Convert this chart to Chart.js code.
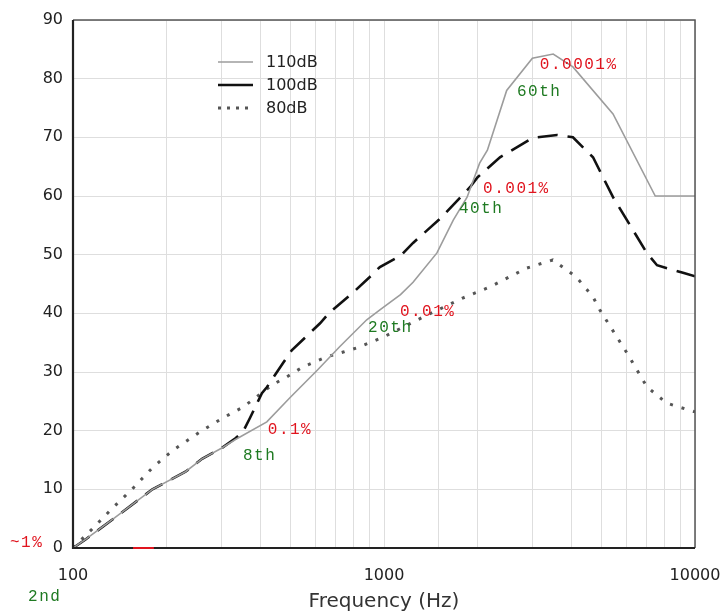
<!DOCTYPE html>
<html>
<head>
<meta charset="utf-8">
<script src="https://cdn.jsdelivr.net/npm/chart.js@4"></script>
<style>
  body { margin: 0; background: #fff; }
</style>
</head>
<body>
<canvas id="myChart" width="723" height="614"></canvas>
<script>
// ---------------- data ----------------
var freq110 = [100, 110, 135, 180, 230, 260, 300, 333, 420, 500, 610, 720, 880, 970, 1130, 1240, 1480, 1670, 1850, 2030, 2150, 2480, 3000, 3500, 4050, 5450, 7450, 10000];
var val110  = [0, 1.5, 5, 10, 13, 15.2, 17, 18.5, 21.5, 25.7, 30.3, 34.3, 38.9, 40.6, 43.2, 45.3, 50.3, 55.9, 59.8, 65.6, 67.8, 78, 83.5, 84.2, 82, 74, 60, 60];

var freq100 = [100, 110, 135, 180, 230, 260, 300, 333, 352, 371, 405, 420, 473, 505, 623, 670, 794, 900, 970, 1130, 1240, 1520, 1890, 2000, 2360, 3000, 3600, 4050, 4700, 5450, 7000, 7550, 9150, 10000];
var val100  = [0, 1.5, 5, 10, 13, 15.2, 17, 18.7, 19.8, 22.2, 26.4, 27.4, 31.5, 33.7, 38.3, 40.2, 43.5, 46.2, 47.9, 49.8, 52, 56.2, 61.5, 63.2, 66.6, 69.9, 70.4, 70, 66.6, 59.8, 50.3, 48.2, 46.9, 46.3];

var freq80 = [100, 116, 134, 156, 181, 210, 256, 304, 352, 437, 488, 550, 656, 740, 818, 1000, 1340, 1790, 2190, 2870, 3490, 4150, 4700, 4940, 6050, 7000, 8100, 10000];
var val80  = [0, 3.4, 6.8, 10.2, 13.8, 16.7, 19.8, 22.2, 24, 27.8, 29.2, 30.9, 32.6, 33.4, 34.1, 36, 39.4, 42.6, 44.5, 47.7, 49.1, 46.2, 42.8, 40.6, 33.2, 27.5, 24.7, 23.2];

var seriesNames = ['110dB', '100dB', '80dB'];
var xTickLabels = [100, 1000, 10000];

// notes: distortion % (red) and harmonic number (green), anchored in data units
var noteTexts = ['~1%', '2nd', '0.1%', '8th', '0.01%', '20th', '0.001%', '40th', '0.0001%', '60th'];
var noteFreqs = [62.7, 71.7, 423, 352, 1125, 889, 2083, 1741, 3170, 2676];
var noteVals  = [0.85, -8.35, 20.1, 15.7, 40.2, 37.5, 61.2, 57.8, 82.3, 77.7];
var noteKinds = ['pct', 'harm', 'pct', 'harm', 'pct', 'harm', 'pct', 'harm', 'pct', 'harm'];

function pts(xs, ys) {
    return xs.map(function (x, i) { return { x: x, y: ys[i] }; });
}

var noteColors = { pct: '#e0141e', harm: '#1f7a22' };

// frame round the plot area
var frame = {
    id: 'frame',
    afterDatasetsDraw: function (chart) {
        var a = chart.chartArea, ctx = chart.ctx;
        ctx.save();
        ctx.strokeStyle = '#555';
        ctx.lineWidth = 1.5;
        ctx.beginPath();
        ctx.moveTo(a.left, a.top); ctx.lineTo(a.right, a.top); ctx.lineTo(a.right, a.bottom);
        ctx.stroke();
        ctx.strokeStyle = '#222';
        ctx.lineWidth = 2.2;
        ctx.beginPath();
        ctx.moveTo(a.left, a.top); ctx.lineTo(a.left, a.bottom); ctx.lineTo(a.right, a.bottom);
        ctx.stroke();
        ctx.restore();
    }
};

// legend drawn inside the plot
var innerLegend = {
    id: 'innerLegend',
    afterDraw: function (chart) {
        var a = chart.chartArea, ctx = chart.ctx;
        ctx.save();
        chart.data.datasets.forEach(function (ds, i) {
            var y = a.top + 42 + i * 23;
            ctx.strokeStyle = ds.borderColor;
            ctx.lineWidth = ds.borderWidth;
            ctx.setLineDash(ds.legendDash || []);
            ctx.beginPath();
            ctx.moveTo(a.left + 145, y);
            ctx.lineTo(a.left + 180, y);
            ctx.stroke();
            ctx.setLineDash([]);
            ctx.fillStyle = '#222';
            ctx.font = '16px "DejaVu Sans"';
            ctx.textBaseline = 'middle';
            ctx.fillText(ds.label, a.left + 193, y + 1);
        });
        ctx.restore();
    }
};

// red / green notes
var notes = {
    id: 'notes',
    afterDraw: function (chart) {
        var xs = chart.scales.x, ys = chart.scales.y, ctx = chart.ctx;
        ctx.save();
        ctx.font = '16px "Liberation Mono"';
        ctx.letterSpacing = '1.5px';
        ctx.textBaseline = 'middle';
        noteTexts.forEach(function (t, i) {
            ctx.fillStyle = noteColors[noteKinds[i]];
            ctx.fillText(t, xs.getPixelForValue(noteFreqs[i]), ys.getPixelForValue(noteVals[i]));
        });
        // small red mark on the axis
        ctx.strokeStyle = noteColors.pct;
        ctx.lineWidth = 2;
        ctx.beginPath();
        ctx.moveTo(xs.getPixelForValue(156), ys.getPixelForValue(0));
        ctx.lineTo(xs.getPixelForValue(182), ys.getPixelForValue(0));
        ctx.stroke();
        ctx.restore();
    }
};

var myChart = new Chart(document.getElementById('myChart'), {
    type: 'line',
    data: {
        datasets: [{
            label: seriesNames[0],
            data: pts(freq110, val110),
            borderColor: '#9c9c9c',
            borderWidth: 1.6
        }, {
            label: seriesNames[1],
            data: pts(freq100, val100),
            borderColor: '#111111',
            borderWidth: 2.6,
            borderDash: [20, 10]
        }, {
            label: seriesNames[2],
            data: pts(freq80, val80),
            borderColor: '#555555',
            borderWidth: 3,
            borderDash: [3, 9],
            legendDash: [3, 6]
        }]
    },
    options: {
        responsive: false,
        animation: false,
        elements: { point: { radius: 0 }, line: { tension: 0 } },
        layout: { padding: { left: 0, right: 28, top: 20, bottom: 0 } },
        plugins: {
            legend: { display: false },
            tooltip: { enabled: false }
        },
        scales: {
            x: {
                type: 'logarithmic',
                min: 100,
                max: 10000,
                grid: { color: '#dedede', lineWidth: 1, drawTicks: false },
                border: { display: false },
                ticks: {
                    autoSkip: false,
                    maxRotation: 0,
                    padding: 18,
                    color: '#222',
                    font: { family: 'DejaVu Sans', size: 16 },
                    callback: function (v) {
                        return xTickLabels.indexOf(v) >= 0 ? String(v) : '';
                    }
                },
                title: {
                    display: true,
                    text: 'Frequency (Hz)',
                    color: '#333',
                    font: { family: 'DejaVu Sans', size: 20 },
                    padding: { top: 0, bottom: 0 }
                },
                afterFit: function (scale) {
                    scale.height = 66;
                    scale.paddingLeft = 0;
                    scale.paddingRight = 0;
                }
            },
            y: {
                min: 0,
                max: 90,
                grid: { color: '#dedede', lineWidth: 1, drawTicks: false },
                border: { display: false },
                ticks: {
                    stepSize: 10,
                    padding: 10,
                    color: '#222',
                    font: { family: 'DejaVu Sans', size: 16 }
                },
                afterFit: function (scale) { scale.width = 73; }
            }
        }
    },
    plugins: [frame, innerLegend, notes]
});
</script>
</body>
</html>
